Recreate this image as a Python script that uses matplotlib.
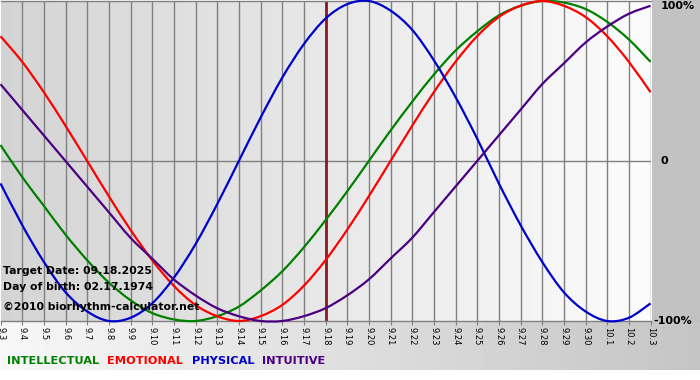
import matplotlib
matplotlib.use("Agg")
import matplotlib.pyplot as plt
from matplotlib.path import Path
from matplotlib.patches import PathPatch
import numpy as np

# day labels along the bottom (9.3 .. 10.3)
day_labels = [f"9.{d}" for d in range(3, 31)] + ["10.1", "10.2", "10.3"]
target_index = 15  # 9.18

# cycle values, one per day, in -1..1
intellectual = [0.10, -0.10, -0.28, -0.46, -0.62, -0.76, -0.87, -0.95, -0.99, -1.00,
                -0.97, -0.91, -0.81, -0.69, -0.54, -0.37, -0.19, 0.00, 0.19, 0.37,
                0.54, 0.69, 0.81, 0.91, 0.97, 1.00, 0.99, 0.95, 0.87, 0.76, 0.62]
emotional = [0.78, 0.62, 0.43, 0.22, 0.00, -0.22, -0.43, -0.62, -0.78, -0.90,
             -0.97, -1.00, -0.97, -0.90, -0.78, -0.62, -0.43, -0.22, 0.00, 0.22,
             0.43, 0.62, 0.78, 0.90, 0.97, 1.00, 0.97, 0.90, 0.78, 0.62, 0.43]
physical = [-0.14, -0.40, -0.63, -0.82, -0.94, -1.00, -0.98, -0.89, -0.73, -0.52,
            -0.27, 0.00, 0.27, 0.52, 0.73, 0.89, 0.98, 1.00, 0.94, 0.82,
            0.63, 0.40, 0.14, -0.14, -0.40, -0.63, -0.82, -0.94, -1.00, -0.98, -0.89]
intuitive = [0.48, 0.32, 0.16, 0.00, -0.16, -0.32, -0.48, -0.61, -0.74, -0.84,
             -0.92, -0.97, -1.00, -1.00, -0.97, -0.92, -0.84, -0.74, -0.61, -0.48,
             -0.32, -0.16, 0.00, 0.16, 0.32, 0.48, 0.61, 0.74, 0.84, 0.92, 0.97]

series_names = ["INTELLECTUAL", "EMOTIONAL", "PHYSICAL", "INTUITIVE"]
series_colors = ["#008000", "#ff0000", "#0000cc", "#4b0082"]


def smooth_path(xs, ys):
    # bezier segments through the daily points so the line draws as a curve
    pts = np.column_stack([xs, ys]).astype(float)
    ext = np.vstack([pts[0], pts, pts[-1]])
    verts = [pts[0]]
    codes = [Path.MOVETO]
    for i in range(len(pts) - 1):
        p0, p1, p2, p3 = ext[i], ext[i + 1], ext[i + 2], ext[i + 3]
        verts += [p1 + (p2 - p0) / 6, p2 - (p3 - p1) / 6, p2]
        codes += [Path.CURVE4] * 3
    return Path(verts, codes)


W, H = 700, 380
fig = plt.figure(figsize=(W / 100, H / 100), dpi=100)

# figure background: grey right margin, gradient strip at the bottom
bg = np.ones((H, W))
bg[:322, 652:] = 0.76
bg[322:370, :] = np.linspace(0.97, 0.77, W)
bax = fig.add_axes([0, 0, 1, 1], zorder=0)
bax.imshow(bg, cmap="gray", vmin=0, vmax=1, aspect="auto", interpolation="bilinear")
bax.axis("off")

ax = fig.add_axes([0.5 / W, 1 - 321 / H, 650 / W, 320 / H], zorder=1)
x = np.arange(len(day_labels))
ax.set_xlim(0, len(day_labels) - 1)
ax.set_ylim(-1.0, 1.0)

# plot background gradient
ax.imshow(np.linspace(0.83, 0.985, 200)[None, :], cmap="gray", vmin=0, vmax=1,
          aspect="auto", extent=[0, len(day_labels) - 1, -1, 1], zorder=0)

for xi in x[1:]:
    ax.axvline(xi, color="#808080", lw=1.0, zorder=1)
ax.axhline(0, color="#808080", lw=1.0, zorder=1)
ax.axvline(target_index, color="#8b1a1a", lw=2.0, zorder=2)

for vals, color in zip([intellectual, emotional, physical, intuitive], series_colors):
    ax.add_patch(PathPatch(smooth_path(x, vals), facecolor="none", edgecolor=color,
                           lw=1.6, zorder=3, clip_on=False))

for side in ["left", "right"]:
    ax.spines[side].set_visible(False)
for side in ["top", "bottom"]:
    ax.spines[side].set_color("#808080")
    ax.spines[side].set_linewidth(1.0)

ax.set_xticks(x)
ax.set_xticklabels(day_labels, rotation=270, fontsize=6, va="top", ha="center")
ax.tick_params(axis="x", length=3, width=0.8, color="#808080", pad=1.5)
ax.set_yticks([])

trans = ax.get_yaxis_transform()
bold = dict(fontsize=8, fontweight="bold", color="black", clip_on=False)
ax.text(660 / 650, 1.0, "100%", va="top", ha="left", transform=trans, **bold)
ax.text(660 / 650, 0.0, "0", va="center", ha="left", transform=trans, **bold)
ax.text(653 / 650, -1.0, "-100%", va="center", ha="left", transform=trans, **bold)

info = dict(fontsize=7.8, fontweight="bold", color="black", zorder=5)
fig.text(3 / W, 1 - 271 / H, "Target Date: 09.18.2025", va="center", **info)
fig.text(3 / W, 1 - 287 / H, "Day of birth: 02.17.1974", va="center", **info)
fig.text(3 / W, 1 - 307 / H, "\u00a92010 biorhythm-calculator.net", va="center", **info)

legend_x = [7, 107, 192, 262]
for name, color, lx in zip(series_names, series_colors, legend_x):
    fig.text(lx / W, 1 - 361 / H, name, color=color, fontsize=8.2,
             fontweight="bold", va="center", ha="left")

fig.savefig("out.png", dpi=100)
